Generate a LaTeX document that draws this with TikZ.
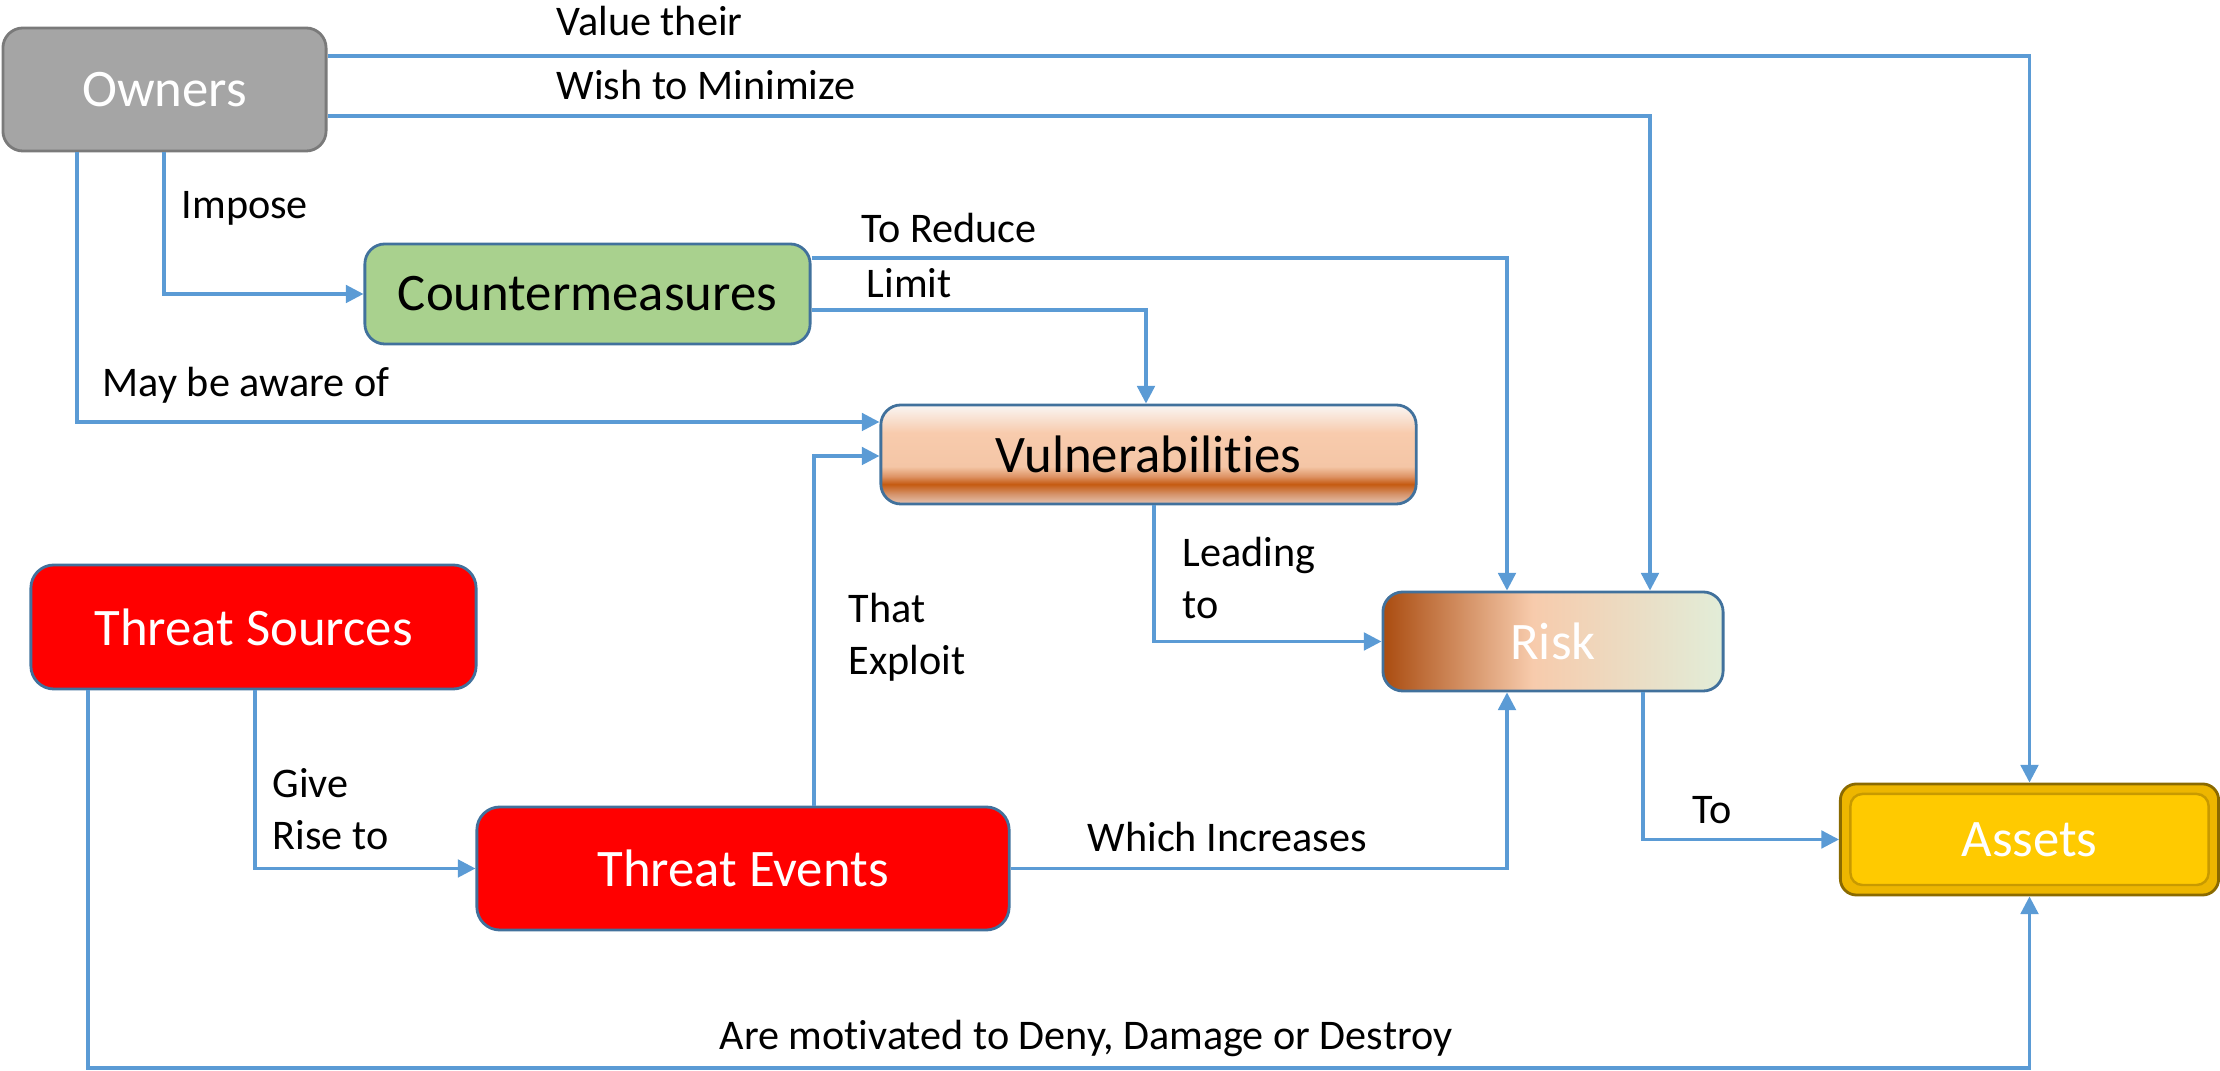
\documentclass[tikz,border=0pt]{standalone}
\usepackage{fontspec}
\setmainfont{Carlito}[Ligatures={NoCommon}]
\usetikzlibrary{arrows.meta,calc}
\definecolor{connc}{HTML}{5B9BD5}
\definecolor{bordc}{HTML}{41719C}
\definecolor{ownfill}{HTML}{A5A5A5}
\definecolor{ownbord}{HTML}{7A7A7A}
\definecolor{cmfill}{HTML}{A9D18E}
\definecolor{thrfill}{HTML}{FF0000}
\definecolor{vA}{HTML}{E6C4B2}
\definecolor{vB}{HTML}{D5946C}
\definecolor{vC}{HTML}{C55A11}
\definecolor{vD}{HTML}{DE9466}
\definecolor{vE}{HTML}{F4C6A6}
\definecolor{vF}{HTML}{F8CBAD}
\definecolor{vG}{HTML}{F9F6F4}
\definecolor{rA}{HTML}{AA4C10}
\definecolor{rB}{HTML}{F7CBAC}
\definecolor{rC}{HTML}{E9DFC7}
\definecolor{rD}{HTML}{E2EDD8}
\definecolor{goldout}{HTML}{EDB600}
\definecolor{goldbord}{HTML}{8A6A00}
\definecolor{goldin}{HTML}{FFCA00}
\definecolor{goldline}{HTML}{C89A00}
\pgfdeclareverticalshading{vulnshade}{100bp}{color(0bp)=(vA); color(25bp)=(vA); color(30bp)=(vB); color(35bp)=(vC); color(39bp)=(vD); color(44bp)=(vE); color(61bp)=(vF); color(75bp)=(vG); color(100bp)=(vG)}
\pgfdeclarehorizontalshading{riskshade}{100bp}{color(0bp)=(rA); color(25bp)=(rA); color(47bp)=(rB); color(64bp)=(rC); color(75bp)=(rD); color(100bp)=(rD)}
\tikzset{
  box/.style={draw=bordc, line width=0.8pt, rounded corners=0.2cm, inner sep=0pt,
    font=\fontsize{15}{18}\selectfont, align=center},
  conn/.style={draw=connc, line width=0.9pt, -{Triangle[length=5pt,width=5pt]}},
  lab/.style={anchor=west, inner sep=0pt, font=\fontsize{12}{14.8}\selectfont, align=left, text=black}
}
\begin{document}
\begin{tikzpicture}[x=0.01cm, y=-0.01cm]
\useasboundingbox (0,0) rectangle (2220,1071);
% nodes
\node[box, draw=ownbord, fill=ownfill, text=white, minimum width=3.23cm, minimum height=1.23cm] (owners) at (164.5,89.5) {Owners};
\node[box, fill=cmfill, minimum width=4.45cm, minimum height=1.0cm] (counter) at (587.5,294) {Countermeasures};
\node[box, shading=vulnshade, minimum width=5.35cm, minimum height=0.99cm] (vuln) at (1148.5,454.5) {Vulnerabilities};
\node[box, shading=riskshade, text=white, minimum width=3.4cm, minimum height=0.99cm] (risk) at (1553,641.5) {Risk};
\node[box, fill=goldout, draw=goldbord, text=white, minimum width=3.78cm, minimum height=1.11cm, rounded corners=0.16cm,
  path picture={\draw[fill=goldin, draw=goldline, line width=0.7pt, rounded corners=0.12cm]
    ([shift={(0.1cm,0.1cm)}]path picture bounding box.south west) rectangle ([shift={(-0.1cm,-0.1cm)}]path picture bounding box.north east);}] (assets) at (2029.5,839.5) {Assets};
\node[box, fill=thrfill, text=white, minimum width=4.45cm, minimum height=1.24cm, rounded corners=0.23cm] (tsrc) at (253.5,627) {Threat Sources};
\node[box, fill=thrfill, text=white, minimum width=5.32cm, minimum height=1.23cm, rounded corners=0.23cm] (tevt) at (743,868.5) {Threat Events};
\coordinate (bot) at (88,1068);
% connectors
\draw[conn] (owners.east |- 0,56) -| (assets.north);
\draw[conn] (owners.east |- 0,116) -| (risk.north -| 1650,0);
\draw[conn] (owners.south -| 164,0) |- (counter.west);
\draw[conn] (owners.south -| 77,0) |- (vuln.west |- 0,422);
\draw[conn] (counter.east |- 0,258) -| (risk.north -| 1507,0);
\draw[conn] (counter.east |- 0,310) -| (vuln.north -| 1146,0);
\draw[conn] (vuln.south -| 1154,0) |- (risk.west);
\draw[conn] (tevt.north -| 814,0) |- (vuln.west |- 0,456);
\draw[conn] (tevt.east) -| (risk.south -| 1507,0);
\draw[conn] (risk.south -| 1643,0) |- (assets.west);
\draw[conn] (tsrc.south -| 255,0) |- (tevt.west);
\draw[conn] (tsrc.south -| bot) -- (bot) -| (assets.south);
% labels
\node[lab] (l1) at (556,21) {Value their};
\node[lab] (l2) at (556,85) {Wish to Minimize};
\node[lab] (l3) at (181,208) {Impose};
\node[lab] (l4) at (102,385) {May be aware of};
\node[lab] (l5) at (861,228) {To Reduce};
\node[lab] (l6) at (866,283) {Limit};
\node[lab] (l7) at (1182,578) {Leading\\to};
\node[lab] (l8) at (848,637) {That\\Exploit};
\node[lab] (l9) at (1087,837) {Which Increases};
\node[lab] (l10) at (1692,810) {To};
\node[lab] (l11) at (272,809) {Give\\Rise to};
\node[lab] (l12) at (719,1038) {Are motivated to Deny, Damage or Destroy};
\end{tikzpicture}
\end{document}
